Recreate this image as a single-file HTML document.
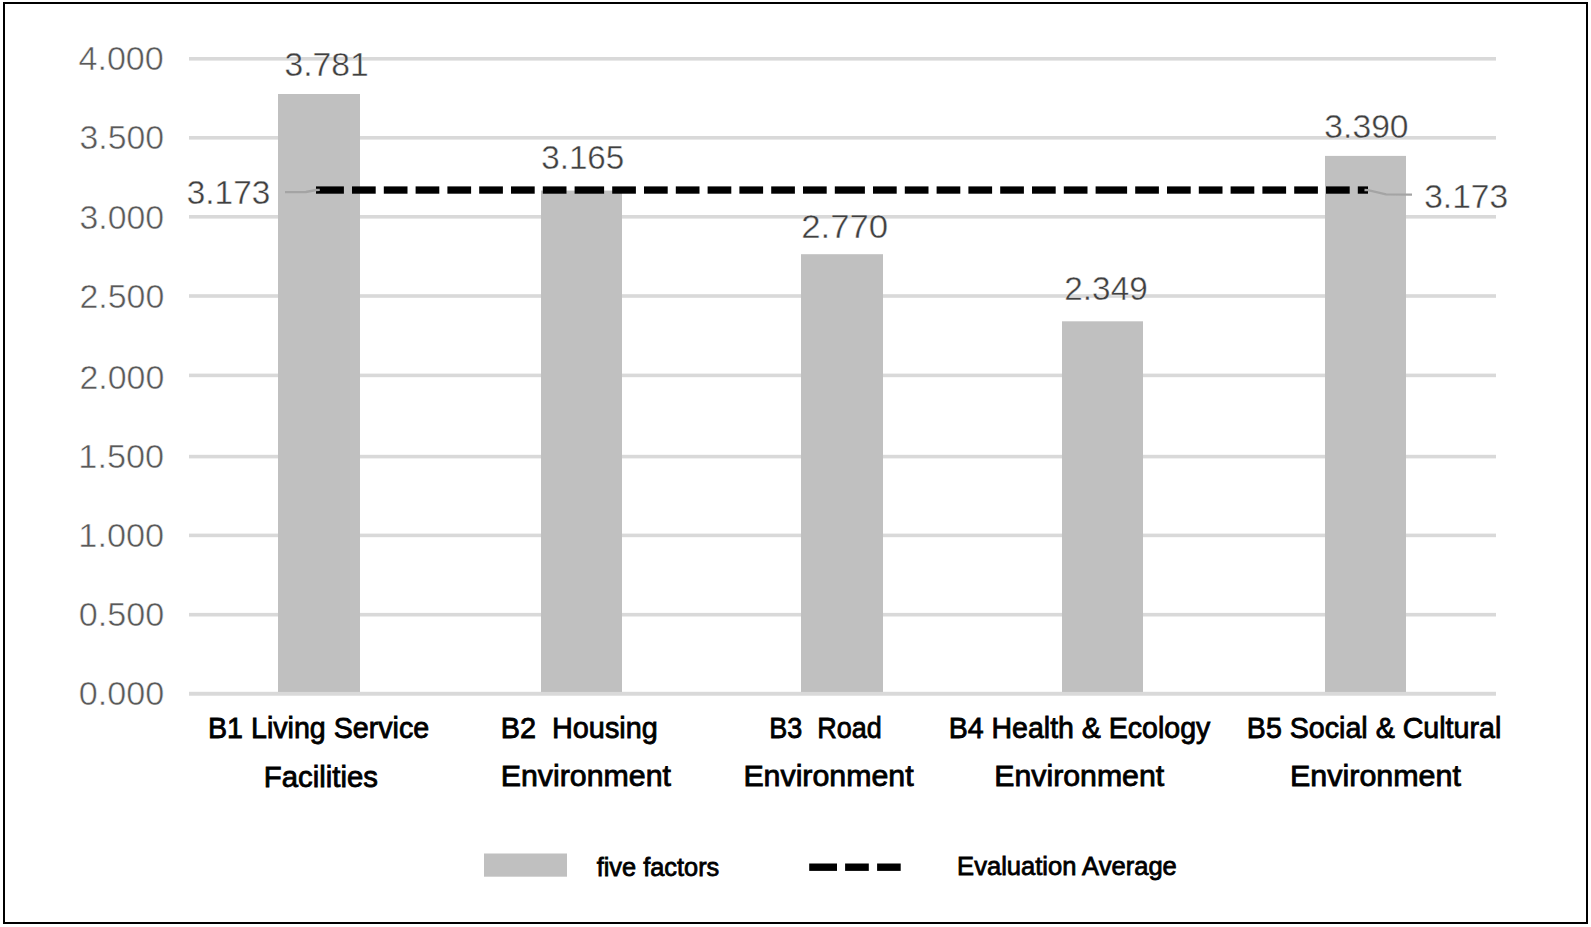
<!DOCTYPE html><html><head><meta charset="utf-8"><style>html,body{margin:0;padding:0;background:#fff;overflow:hidden;width:1591px;height:927px;}svg{display:block;}text{font-family:"Liberation Sans",sans-serif;}</style></head><body>
<svg width="1591" height="927" viewBox="0 0 1591 927">
<rect x="0" y="0" width="1591" height="927" fill="#fff"/>
<rect x="189" y="57.00" width="1307" height="3.6" fill="#d9d9d9"/>
<rect x="189" y="136.00" width="1307" height="3.6" fill="#d9d9d9"/>
<rect x="189" y="215.00" width="1307" height="3.6" fill="#d9d9d9"/>
<rect x="189" y="294.20" width="1307" height="3.6" fill="#d9d9d9"/>
<rect x="189" y="373.60" width="1307" height="3.6" fill="#d9d9d9"/>
<rect x="189" y="454.80" width="1307" height="3.6" fill="#d9d9d9"/>
<rect x="189" y="533.60" width="1307" height="3.6" fill="#d9d9d9"/>
<rect x="189" y="612.90" width="1307" height="3.6" fill="#d9d9d9"/>
<rect x="189" y="691.90" width="1307" height="3.6" fill="#d9d9d9"/>
<rect x="278" y="94.0" width="82" height="598.0" fill="#c0c0c0"/>
<rect x="541" y="190.6" width="81" height="501.4" fill="#c0c0c0"/>
<rect x="801" y="254.2" width="82" height="437.8" fill="#c0c0c0"/>
<rect x="1062" y="321.3" width="81" height="370.7" fill="#c0c0c0"/>
<rect x="1325" y="155.9" width="81" height="536.1" fill="#c0c0c0"/>
<rect x="189" y="691.90" width="1307" height="3.6" fill="#d9d9d9"/>
<rect x="316.00" y="186.4" width="27.90" height="7.30" fill="#000"/>
<rect x="352.00" y="186.4" width="23.70" height="7.30" fill="#000"/>
<rect x="383.80" y="186.4" width="23.70" height="7.30" fill="#000"/>
<rect x="415.60" y="186.4" width="23.70" height="7.30" fill="#000"/>
<rect x="447.40" y="186.4" width="23.70" height="7.30" fill="#000"/>
<rect x="479.20" y="186.4" width="23.70" height="7.30" fill="#000"/>
<rect x="511.00" y="186.4" width="23.70" height="7.30" fill="#000"/>
<rect x="542.80" y="186.4" width="23.70" height="7.30" fill="#000"/>
<rect x="574.60" y="186.4" width="29.50" height="7.30" fill="#000"/>
<rect x="612.20" y="186.4" width="23.70" height="7.30" fill="#000"/>
<rect x="644.00" y="186.4" width="23.70" height="7.30" fill="#000"/>
<rect x="675.80" y="186.4" width="23.70" height="7.30" fill="#000"/>
<rect x="707.60" y="186.4" width="23.70" height="7.30" fill="#000"/>
<rect x="739.40" y="186.4" width="23.70" height="7.30" fill="#000"/>
<rect x="771.20" y="186.4" width="23.70" height="7.30" fill="#000"/>
<rect x="803.00" y="186.4" width="23.70" height="7.30" fill="#000"/>
<rect x="834.80" y="186.4" width="30.10" height="7.30" fill="#000"/>
<rect x="873.00" y="186.4" width="23.70" height="7.30" fill="#000"/>
<rect x="904.80" y="186.4" width="23.70" height="7.30" fill="#000"/>
<rect x="936.60" y="186.4" width="23.70" height="7.30" fill="#000"/>
<rect x="968.40" y="186.4" width="23.70" height="7.30" fill="#000"/>
<rect x="1000.20" y="186.4" width="23.70" height="7.30" fill="#000"/>
<rect x="1032.00" y="186.4" width="23.70" height="7.30" fill="#000"/>
<rect x="1063.80" y="186.4" width="23.70" height="7.30" fill="#000"/>
<rect x="1095.60" y="186.4" width="31.50" height="7.30" fill="#000"/>
<rect x="1135.20" y="186.4" width="23.70" height="7.30" fill="#000"/>
<rect x="1167.00" y="186.4" width="23.70" height="7.30" fill="#000"/>
<rect x="1198.80" y="186.4" width="23.70" height="7.30" fill="#000"/>
<rect x="1230.60" y="186.4" width="23.70" height="7.30" fill="#000"/>
<rect x="1262.40" y="186.4" width="23.70" height="7.30" fill="#000"/>
<rect x="1294.20" y="186.4" width="23.70" height="7.30" fill="#000"/>
<rect x="1326.00" y="186.4" width="23.70" height="7.30" fill="#000"/>
<rect x="1357.80" y="186.4" width="10.20" height="7.30" fill="#000"/>
<polyline points="285,192.2 306,192 316,190 319.8,189.9" fill="none" stroke="#a4a4a4" stroke-width="2.3"/>
<polyline points="1364.5,190 1368,190.2 1386,194.3 1412,194.6" fill="none" stroke="#a4a4a4" stroke-width="2.3"/>
<rect x="484" y="853.5" width="83" height="23.2" fill="#c0c0c0"/>
<rect x="809.2" y="863.5" width="27.80" height="7.4" fill="#000"/>
<rect x="845.1" y="863.5" width="23.70" height="7.4" fill="#000"/>
<rect x="877.1" y="863.5" width="23.60" height="7.4" fill="#000"/>
<text x="78.51" y="70.40" font-size="32.5" fill="#595959" font-weight="normal" stroke="#fff" stroke-width="0.5" textLength="85.28" lengthAdjust="spacingAndGlyphs">4.000</text>
<text x="79.58" y="149.30" font-size="32.5" fill="#595959" font-weight="normal" stroke="#fff" stroke-width="0.5" textLength="84.58" lengthAdjust="spacingAndGlyphs">3.500</text>
<text x="79.58" y="228.50" font-size="32.5" fill="#595959" font-weight="normal" stroke="#fff" stroke-width="0.5" textLength="84.58" lengthAdjust="spacingAndGlyphs">3.000</text>
<text x="79.41" y="307.60" font-size="32.5" fill="#595959" font-weight="normal" stroke="#fff" stroke-width="0.5" textLength="84.91" lengthAdjust="spacingAndGlyphs">2.500</text>
<text x="79.41" y="388.50" font-size="32.5" fill="#595959" font-weight="normal" stroke="#fff" stroke-width="0.5" textLength="84.91" lengthAdjust="spacingAndGlyphs">2.000</text>
<text x="78.37" y="467.60" font-size="32.5" fill="#595959" font-weight="normal" stroke="#fff" stroke-width="0.5" textLength="85.78" lengthAdjust="spacingAndGlyphs">1.500</text>
<text x="78.37" y="546.80" font-size="32.5" fill="#595959" font-weight="normal" stroke="#fff" stroke-width="0.5" textLength="85.78" lengthAdjust="spacingAndGlyphs">1.000</text>
<text x="78.74" y="625.50" font-size="32.5" fill="#595959" font-weight="normal" stroke="#fff" stroke-width="0.5" textLength="85.51" lengthAdjust="spacingAndGlyphs">0.500</text>
<text x="78.74" y="704.50" font-size="32.5" fill="#595959" font-weight="normal" stroke="#fff" stroke-width="0.5" textLength="85.51" lengthAdjust="spacingAndGlyphs">0.000</text>
<text x="284.56" y="76.30" font-size="32.5" fill="#404040" font-weight="normal" stroke="#fff" stroke-width="0.4" textLength="84.23" lengthAdjust="spacingAndGlyphs">3.781</text>
<text x="541.21" y="168.80" font-size="32.5" fill="#404040" font-weight="normal" stroke="#fff" stroke-width="0.4" textLength="83.13" lengthAdjust="spacingAndGlyphs">3.165</text>
<text x="801.20" y="238.40" font-size="32.5" fill="#404040" font-weight="normal" stroke="#fff" stroke-width="0.4" textLength="86.96" lengthAdjust="spacingAndGlyphs">2.770</text>
<text x="1064.30" y="300.00" font-size="32.5" fill="#404040" font-weight="normal" stroke="#fff" stroke-width="0.4" textLength="83.42" lengthAdjust="spacingAndGlyphs">2.349</text>
<text x="1324.38" y="138.20" font-size="32.5" fill="#404040" font-weight="normal" stroke="#fff" stroke-width="0.4" textLength="84.18" lengthAdjust="spacingAndGlyphs">3.390</text>
<text x="186.81" y="203.50" font-size="32.5" fill="#404040" font-weight="normal" stroke="#fff" stroke-width="0.4" textLength="83.50" lengthAdjust="spacingAndGlyphs">3.173</text>
<text x="1424.16" y="207.60" font-size="32.5" fill="#404040" font-weight="normal" stroke="#fff" stroke-width="0.4" textLength="84.00" lengthAdjust="spacingAndGlyphs">3.173</text>
<text x="207.99" y="737.90" font-size="30.0" fill="#000000" font-weight="normal" stroke="#000000" stroke-width="0.85" textLength="221.25" lengthAdjust="spacingAndGlyphs">B1 Living Service</text>
<text x="263.87" y="786.50" font-size="30.0" fill="#000000" font-weight="normal" stroke="#000000" stroke-width="0.85" textLength="114.02" lengthAdjust="spacingAndGlyphs">Facilities</text>
<text x="500.72" y="738.10" font-size="30.0" fill="#000000" font-weight="normal" stroke="#000000" stroke-width="0.85" textLength="157.06" lengthAdjust="spacingAndGlyphs">B2  Housing</text>
<text x="500.77" y="786.20" font-size="30.0" fill="#000000" font-weight="normal" stroke="#000000" stroke-width="0.85" textLength="170.16" lengthAdjust="spacingAndGlyphs">Environment</text>
<text x="769.32" y="737.90" font-size="30.0" fill="#000000" font-weight="normal" stroke="#000000" stroke-width="0.85" textLength="112.53" lengthAdjust="spacingAndGlyphs">B3  Road</text>
<text x="743.40" y="786.20" font-size="30.0" fill="#000000" font-weight="normal" stroke="#000000" stroke-width="0.85" textLength="170.21" lengthAdjust="spacingAndGlyphs">Environment</text>
<text x="948.66" y="737.90" font-size="30.0" fill="#000000" font-weight="normal" stroke="#000000" stroke-width="0.85" textLength="261.67" lengthAdjust="spacingAndGlyphs">B4 Health &amp; Ecology</text>
<text x="994.28" y="786.30" font-size="30.0" fill="#000000" font-weight="normal" stroke="#000000" stroke-width="0.85" textLength="169.95" lengthAdjust="spacingAndGlyphs">Environment</text>
<text x="1246.81" y="737.90" font-size="30.0" fill="#000000" font-weight="normal" stroke="#000000" stroke-width="0.85" textLength="254.50" lengthAdjust="spacingAndGlyphs">B5 Social &amp; Cultural</text>
<text x="1290.06" y="786.30" font-size="30.0" fill="#000000" font-weight="normal" stroke="#000000" stroke-width="0.85" textLength="170.88" lengthAdjust="spacingAndGlyphs">Environment</text>
<text x="596.69" y="875.50" font-size="25.8" fill="#000000" font-weight="normal" stroke="#000000" stroke-width="0.8" textLength="122.60" lengthAdjust="spacingAndGlyphs">five factors</text>
<text x="957.12" y="874.70" font-size="25.8" fill="#000000" font-weight="normal" stroke="#000000" stroke-width="0.8" textLength="219.73" lengthAdjust="spacingAndGlyphs">Evaluation Average</text>
<rect x="4" y="3" width="1583" height="920" fill="none" stroke="#000" stroke-width="2"/>
</svg></body></html>
